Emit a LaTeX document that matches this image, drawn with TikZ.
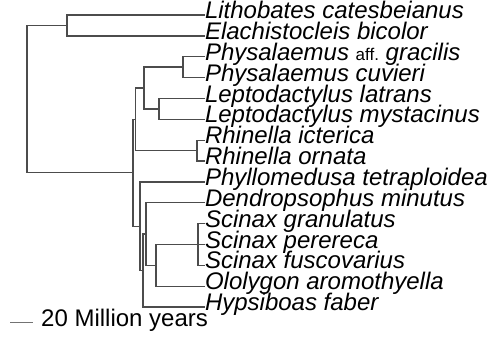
\documentclass[tikz,border=0pt]{standalone}
\usepackage{fontspec}
\setmainfont{Liberation Sans}
\usetikzlibrary{positioning}
\tikzset{
  branch/.style={draw=black!70,line width=1.4pt},
  taxon/.style={anchor=west,inner sep=0pt,outer sep=0pt,font=\fontsize{24}{24}\selectfont\itshape,text height=0.72em,text depth=0pt},
  scalebar/.style={anchor=west,inner sep=0pt,font=\fontsize{24}{24}\selectfont,text height=0.72em,text depth=0pt}
}
\newcommand{\aff}{{\upshape\fontsize{17}{17}\selectfont aff.}}

\begin{document}
\begin{tikzpicture}[x=1pt,y=-1pt]
\useasboundingbox (0,0) rectangle (496,338);
\node[taxon] (lith) at (205,15) {Lithobates catesbeianus};
\node[taxon] (elach) at (205,35.9) {Elachistocleis bicolor};
\node[taxon] (physa) at (205,56.7) {Physalaemus \aff\ gracilis};
\node[taxon] (physc) at (205,77.6) {Physalaemus cuvieri};
\node[taxon] (lepl) at (205,98.4) {Leptodactylus latrans};
\node[taxon] (lepm) at (205,119.3) {Leptodactylus mystacinus};
\node[taxon] (rhini) at (205,140.2) {Rhinella icterica};
\node[taxon] (rhino) at (205,161) {Rhinella ornata};
\node[taxon] (phyllo) at (205,181.9) {Phyllomedusa tetraploidea};
\node[taxon] (dendro) at (205,202.7) {Dendropsophus minutus};
\node[taxon] (scig) at (205,223.6) {Scinax granulatus};
\node[taxon] (scip) at (205,244.5) {Scinax perereca};
\node[taxon] (scif) at (205,265.3) {Scinax fuscovarius};
\node[taxon] (olol) at (205,286.2) {Ololygon aromothyella};
\node[taxon] (hyps) at (205,307) {Hypsiboas faber};

\coordinate (root) at (27,99.1);
\coordinate (nout) at (67,25.45);
\coordinate (nc) at (133,172.75);
\coordinate (nb) at (135.5,119.3);
\coordinate (npl) at (144,88);
\coordinate (nphys) at (183,67.15);
\coordinate (nlep) at (159,108.85);
\coordinate (nrhin) at (197,150.6);
\coordinate (nd) at (140,226.2);
\coordinate (ne) at (143,270.5);
\coordinate (nf) at (146,234);
\coordinate (ng) at (156,265.35);
\coordinate (nsci) at (198,244.5);

\draw[branch] (root) |- (nout);
\draw[branch] (root) |- (nc);
\draw[branch] (nout) |- (lith.west);
\draw[branch] (nout) |- (elach.west);
\draw[branch] (nc) |- (nb);
\draw[branch] (nc) |- (nd);
\draw[branch] (nb) |- (npl);
\draw[branch] (nb) |- (nrhin);
\draw[branch] (npl) |- (nphys);
\draw[branch] (npl) |- (nlep);
\draw[branch] (nphys) |- (physa.west);
\draw[branch] (nphys) |- (physc.west);
\draw[branch] (nlep) |- (lepl.west);
\draw[branch] (nlep) |- (lepm.west);
\draw[branch] (nrhin) |- (rhini.west);
\draw[branch] (nrhin) |- (rhino.west);
\draw[branch] (nd) |- (phyllo.west);
\draw[branch] (nd) |- (ne);
\draw[branch] (ne) |- (nf);
\draw[branch] (ne) |- (hyps.west);
\draw[branch] (nf) |- (dendro.west);
\draw[branch] (nf) |- (ng);
\draw[branch] (ng) |- (nsci);
\draw[branch] (ng) |- (olol.west);
\draw[branch] (nsci) |- (scig.west);
\draw[branch] (nsci) -- (scip.west);
\draw[branch] (nsci) |- (scif.west);

\coordinate (barl) at (10,322);
\coordinate (barr) at (33,322);
\node[scalebar] (barlabel) at (41,323) {20 Million years};
\draw[branch,draw=black!55,line width=1pt] (barl) -- (barr);
\end{tikzpicture}
\end{document}
